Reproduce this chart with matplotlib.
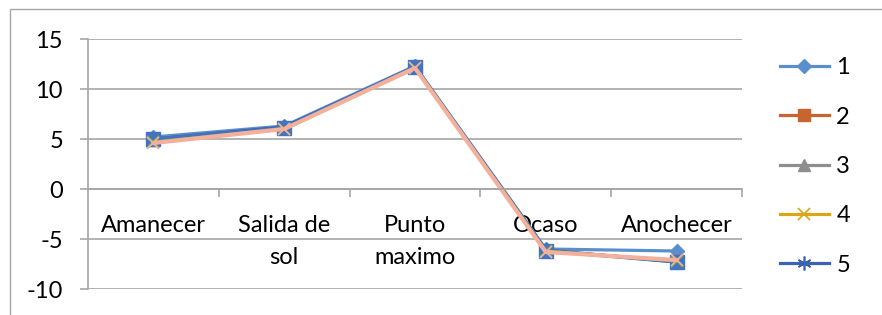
import matplotlib.pyplot as plt
from matplotlib.patches import Rectangle

plt.rcParams['font.family'] = ['Lato', 'DejaVu Sans']
plt.rcParams['axes.unicode_minus'] = False

categories = ["Amanecer", "Salida de\nsol", "Punto\nmaximo", "Ocaso", "Anochecer"]
s1 = [5.2, 6.3, 12.3, -6.0, -6.2]
s2 = [5.0, 6.1, 12.2, -6.2, -7.2]
s3 = [4.9, 6.1, 12.2, -6.2, -7.2]
s4 = [4.8, 6.0, 12.1, -6.2, -7.2]
s5 = [5.0, 6.2, 12.2, -6.1, -7.3]
# series drawn but not listed in the legend
s6 = [5.0, 6.1, 12.2, -6.2, -7.3]
s7 = [4.7, 6.0, 12.1, -6.2, -7.2]
s8 = [4.6, 6.0, 12.1, -6.3, -7.1]

grid_c = "#A6A6A6"
fs = 17

fig = plt.figure(figsize=(8.82, 3.15), dpi=100)
ax = fig.add_axes([88 / 882, 1 - 289 / 315, (742 - 88) / 882, 250 / 315])

# chart border (cut off at right and bottom)
fig.patches.append(Rectangle((10 / 882, -0.1), 1.2, 1 - 9 / 315 + 0.1,
                             transform=fig.transFigure, fill=False,
                             edgecolor="#A6A6A6", linewidth=1.0))

x = range(len(categories))
ax.plot(x, s1, color="#5A8FCB", marker="D", markersize=7, linewidth=2.3, label="1")
ax.plot(x, s2, color="#C8642F", marker="s", markersize=8, linewidth=2.3, label="2")
ax.plot(x, s3, color="#8E8E8E", marker="^", markersize=8, linewidth=2.3, label="3")
ax.plot(x, s4, color="#DBA615", marker="x", markersize=9, markeredgewidth=1.2, linewidth=2.3, label="4")
ax.plot(x, s5, color="#3D63AE", marker=(6, 2, 0), markersize=10, markeredgewidth=1.2, linewidth=2.3, label="5")
ax.plot(x, s6, color="#4472C4", marker="s", markersize=10, linewidth=2.3)
ax.plot(x, s7, color="#70AD47", marker="x", markersize=9, markeredgewidth=1.5, linewidth=2.3)
ax.plot(x, s8, color="#F4B09A", marker="x", markersize=8, markeredgewidth=1.2, linewidth=3.0)

ax.set_xlim(-0.5, 4.5)
ax.set_ylim(-10, 15)
ax.set_yticks([-10, -5, 0, 5, 10, 15])
ax.yaxis.grid(True, color=grid_c, linewidth=1.2)
ax.set_axisbelow(True)

for s in ["top", "right"]:
    ax.spines[s].set_visible(False)
ax.spines["left"].set_color(grid_c)
ax.spines["left"].set_linewidth(1.2)
ax.spines["bottom"].set_position(("data", 0))
ax.spines["bottom"].set_color(grid_c)
ax.spines["bottom"].set_linewidth(1.2)

ax.set_xticks(list(x))
ax.set_xticklabels(categories, linespacing=1.6)
ax.set_xticks([0.5, 1.5, 2.5, 3.5, 4.5], minor=True)
ax.tick_params(axis="x", which="major", length=0, pad=19, labelsize=fs)
ax.tick_params(axis="x", which="minor", length=6, color=grid_c, width=1.2)
for lbl in ax.get_xticklabels():
    lbl.set_verticalalignment("top")
ax.tick_params(axis="y", length=6, color=grid_c, width=1.2, pad=12, labelsize=fs)

ax.legend(loc="center left", bbox_to_anchor=(1.025, 0.49), frameon=False,
          fontsize=fs, handlelength=2.1, labelspacing=1.2, handletextpad=0.3)

fig.savefig("out.png", dpi=100)
